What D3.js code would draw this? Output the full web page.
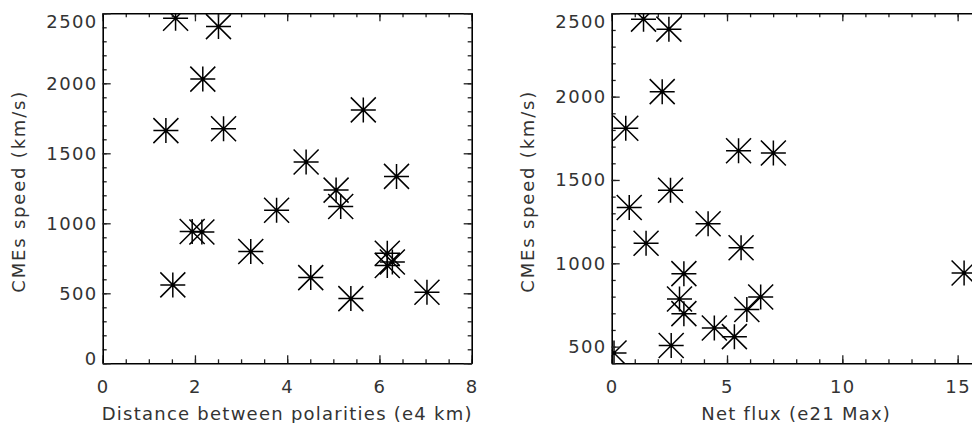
<!DOCTYPE html>
<html>
<head>
<meta charset="utf-8">
<script src="https://cdn.jsdelivr.net/npm/d3@7"></script>
<style>
  body { margin: 0; background: #fff; }
  svg { display: block; }
  text { font-family: "DejaVu Sans", sans-serif; fill: #333; }
</style>
</head>
<body>
<div id="chart"></div>
<script>
// CME speed (km/s), one entry per event, shared by both panels
const speed = [2465, 2405, 2030, 1810, 1675, 1662, 1438, 1335, 1237, 1120, 1093,
               942, 938, 798, 786, 723, 698, 612, 560, 507, 462];
// distance between polarities (e4 km)
const distance = [1.58, 2.51, 2.17, 5.65, 2.62, 1.37, 4.41, 6.37, 5.06, 5.16, 3.77,
                  1.94, 2.15, 3.21, 6.17, 6.28, 6.17, 4.51, 1.52, 7.03, 5.38];
// net flux (e21 Mx)
const netFlux = [1.38, 2.48, 2.19, 0.61, 5.50, 7.01, 2.55, 0.76, 4.18, 1.49, 5.61,
                 15.28, 3.13, 6.46, 2.94, 5.86, 3.13, 4.45, 5.32, 2.58, 0.10];

const leftXTicks = [0, 2, 4, 6, 8];
const leftYTicks = [0, 500, 1000, 1500, 2000, 2500];
const rightXTicks = [0, 5, 10, 15];
const rightYTicks = [500, 1000, 1500, 2000, 2500];

const W = 972, H = 423;
const svg = d3.select('#chart').append('svg')
  .attr('width', W).attr('height', H);
svg.append('rect').attr('width', W).attr('height', H).attr('fill', '#fff');

const plotTop = 13.3, plotBottom = 363.3, boxW = 369;
const star = 'M-12.5,0H12.5M0,-12.5V12.5M-12.5,-12.5L12.5,12.5M-12.5,12.5L12.5,-12.5';

function drawPanel (opt) {
  const x = d3.scaleLinear().domain(opt.xDomain).range([opt.left, opt.left + boxW]);
  const y = d3.scaleLinear().domain(opt.yDomain).range([plotBottom, plotTop]);
  const g = svg.append('g');

  const clipId = 'clip' + opt.id;
  g.append('clipPath').attr('id', clipId)
    .append('rect')
    .attr('x', opt.left).attr('y', plotTop)
    .attr('width', boxW).attr('height', plotBottom - plotTop);

  // points
  g.append('g').attr('clip-path', 'url(#' + clipId + ')')
    .selectAll('path')
    .data(opt.xs.map((v, i) => [v, speed[i]]))
    .enter().append('path')
    .attr('transform', d => 'translate(' + x(d[0]) + ',' + y(d[1]) + ')')
    .attr('d', star)
    .attr('fill', 'none')
    .attr('stroke', '#000')
    .attr('stroke-width', 1.5);

  const xMinor = d3.range(opt.xDomain[0], opt.xDomain[1] + 1e-9, opt.xMinor);
  const yMinor = d3.range(opt.yMinorStart, opt.yDomain[1] + 1e-9, opt.yMinor);

  const axes = [
    {axis: d3.axisBottom(x), tr: [0, plotBottom], maj: opt.xTicks, min: xMinor, labels: true, pad: 17},
    {axis: d3.axisTop(x), tr: [0, plotTop], maj: opt.xTicks, min: xMinor, labels: false, pad: 0},
    {axis: d3.axisLeft(y), tr: [opt.left, 0], maj: opt.yTicks, min: yMinor, labels: true, pad: 5, isY: true},
    {axis: d3.axisRight(y), tr: [opt.left + boxW, 0], maj: opt.yTicks, min: yMinor, labels: false, pad: 0}
  ];

  axes.forEach(a => {
    // minor ticks
    g.append('g')
      .attr('transform', 'translate(' + a.tr + ')')
      .call(a.axis.tickValues(a.min).tickSizeInner(-4).tickSizeOuter(0).tickFormat(''))
      .call(s => s.select('.domain').remove())
      .selectAll('line').attr('stroke', '#222').attr('stroke-width', 1.3);
    // major ticks + box side
    const ga = g.append('g')
      .attr('transform', 'translate(' + a.tr + ')')
      .call(a.axis.tickValues(a.maj).tickSizeInner(-8).tickSizeOuter(0)
        .tickPadding(a.pad)
        .tickFormat(a.labels ? d3.format('d') : ''));
    ga.select('.domain').attr('stroke', '#000').attr('stroke-width', 1.6);
    ga.selectAll('line').attr('stroke', '#222').attr('stroke-width', 1.3);
    ga.selectAll('text').attr('font-family', null)
      .style('font-size', '18px')
      .style('letter-spacing', '1.4px')
      .attr('fill', '#333');

    if (a.isY) {
      // end labels are nudged inside the box, as the original plot does
      ga.selectAll('.tick text')
        .filter(d => d === opt.yDomain[1])
        .attr('y', 8);
      ga.selectAll('.tick text')
        .filter(d => d === 0)
        .attr('y', -5);
    }
  });

  g.append('text')
    .attr('x', opt.left + boxW / 2).attr('y', 420)
    .attr('text-anchor', 'middle')
    .style('font-size', '18px')
    .style('letter-spacing', '1.25px')
    .text(opt.xTitle);

  g.append('text')
    .attr('transform', 'translate(' + opt.yTitleX + ',' + ((plotTop + plotBottom) / 2 + 3) + ') rotate(-90)')
    .attr('text-anchor', 'middle')
    .style('font-size', '18px')
    .style('letter-spacing', '1.8px')
    .text('CMEs speed (km/s)');
}

drawPanel({
  id: 'L', left: 102.7, xs: distance,
  xDomain: [0, 8], yDomain: [0, 2500],
  xTicks: leftXTicks, yTicks: leftYTicks,
  xMinor: 0.5, yMinor: 100, yMinorStart: 0,
  xTitle: 'Distance between polarities (e4 km)', yTitleX: 25
});

drawPanel({
  id: 'R', left: 611.7, xs: netFlux,
  xDomain: [0, 16], yDomain: [400, 2500],
  xTicks: rightXTicks, yTicks: rightYTicks,
  xMinor: 1, yMinor: 100, yMinorStart: 400,
  xTitle: 'Net flux (e21 Max)', yTitleX: 534
});
</script>
</body>
</html>
